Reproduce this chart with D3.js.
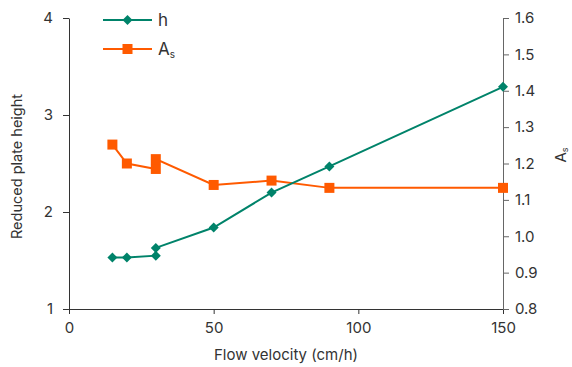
<!DOCTYPE html>
<html>
<head>
<meta charset="utf-8">
<script src="https://cdn.jsdelivr.net/npm/d3@7"></script>
<style>
  body { margin: 0; background: #fff; }
  svg text { font-family: Inter, "Noto Sans", sans-serif; fill: #333; }
  .axis path, .axis line { stroke: #333; }
  .axis-r path, .axis-r line { stroke: #666; }
</style>
</head>
<body>
<div id="chart"></div>
<script>
// flow velocity (cm/h)
const hVelocity = [15, 20, 30, 30, 50, 70, 90, 150]
const hValues = [1.53, 1.53, 1.55, 1.63, 1.84, 2.2, 2.47, 3.29]
const asVelocity = [15, 20, 30, 30, 50, 70, 90, 150]
const asValues = [1.252, 1.2, 1.185, 1.212, 1.141, 1.153, 1.133, 1.133]
const xTicks = [0, 50, 100, 150]
const leftTicks = [1, 2, 3, 4]
const rightTicks = [0.8, 0.9, 1.0, 1.1, 1.2, 1.3, 1.4, 1.5, 1.6]

const W = 572, H = 367
const margin = { top: 18, right: 69, bottom: 58, left: 69 }
const width = W - margin.left - margin.right
const height = H - margin.top - margin.bottom
const green = '#00836a', orange = '#ff5a00'

const svg = d3.select('#chart').append('svg')
  .attr('width', W).attr('height', H)
const chart = svg.append('g')
  .attr('transform', `translate(${margin.left}, ${margin.top})`)

const x = d3.scaleLinear().domain([0, 150]).range([0, width])
const yL = d3.scaleLinear().domain([1, 4]).range([height, 0])
const yR = d3.scaleLinear().domain([0.8, 1.6]).range([height, 0])

// axes
chart.append('g').attr('class', 'axis axis-x')
  .attr('transform', `translate(0, ${height})`)
  .call(d3.axisBottom(x).tickValues(xTicks).tickSize(5).tickSizeOuter(0).tickPadding(8))
chart.append('g').attr('class', 'axis axis-y')
  .call(d3.axisLeft(yL).tickValues(leftTicks).tickFormat(d3.format('d')).tickSize(6).tickSizeOuter(0).tickPadding(10))
chart.append('g').attr('class', 'axis axis-r')
  .attr('transform', `translate(${width}, 0)`)
  .call(d3.axisRight(yR).tickValues(rightTicks).tickFormat(d3.format('.1f')).tickSize(6).tickSizeOuter(0).tickPadding(6))
chart.selectAll('.axis text').attr('font-size', 15)

// lines
const hData = hVelocity.map((v, i) => [v, hValues[i]])
const asData = asVelocity.map((v, i) => [v, asValues[i]])

chart.append('path').datum(asData)
  .attr('fill', 'none').attr('stroke', orange).attr('stroke-width', 2)
  .attr('d', d3.line().x(d => x(d[0])).y(d => yR(d[1])))
chart.append('path').datum(hData)
  .attr('fill', 'none').attr('stroke', green).attr('stroke-width', 2)
  .attr('d', d3.line().x(d => x(d[0])).y(d => yL(d[1])))

const diamond = d3.symbol().type(d3.symbolSquare).size(50)
chart.selectAll('.as-pt').data(asData).enter().append('rect')
  .attr('class', 'as-pt')
  .attr('x', d => x(d[0]) - 5).attr('y', d => yR(d[1]) - 5)
  .attr('width', 10).attr('height', 10).attr('fill', orange)
chart.selectAll('.h-pt').data(hData).enter().append('path')
  .attr('class', 'h-pt')
  .attr('d', diamond)
  .attr('transform', d => `translate(${x(d[0])}, ${yL(d[1])}) rotate(45)`)
  .attr('fill', green)

// axis titles
svg.append('text').attr('x', margin.left + width / 2).attr('y', 360)
  .attr('text-anchor', 'middle').attr('font-size', 15).text('Flow velocity (cm/h)')
svg.append('text')
  .attr('transform', `translate(22, ${margin.top + height / 2 + 3}) rotate(-90)`)
  .attr('text-anchor', 'middle').attr('font-size', 14.5).text('Reduced plate height')
const rt = svg.append('text')
  .attr('transform', `translate(566, ${margin.top + 137}) rotate(-90)`)
  .attr('text-anchor', 'middle').attr('font-size', 15)
rt.append('tspan').text('A')
rt.append('tspan').attr('font-size', 9).attr('dy', 2).text('s')

// legend
const lg = svg.append('g').attr('transform', 'translate(103, 20)')
lg.append('line').attr('x1', 0).attr('x2', 49).attr('y1', 0).attr('y2', 0)
  .attr('stroke', green).attr('stroke-width', 2)
lg.append('path').attr('d', diamond).attr('transform', 'translate(24.5, 0) rotate(45)').attr('fill', green)
lg.append('text').attr('x', 55).attr('y', 6).attr('font-size', 17).text('h')
lg.append('line').attr('x1', 0).attr('x2', 49).attr('y1', 29).attr('y2', 29)
  .attr('stroke', orange).attr('stroke-width', 2)
lg.append('rect').attr('x', 19.5).attr('y', 24).attr('width', 10).attr('height', 10).attr('fill', orange)
const lt = lg.append('text').attr('x', 55).attr('y', 35).attr('font-size', 17)
lt.append('tspan').text('A')
lt.append('tspan').attr('font-size', 10).attr('dy', 3).text('s')
</script>
</body>
</html>
